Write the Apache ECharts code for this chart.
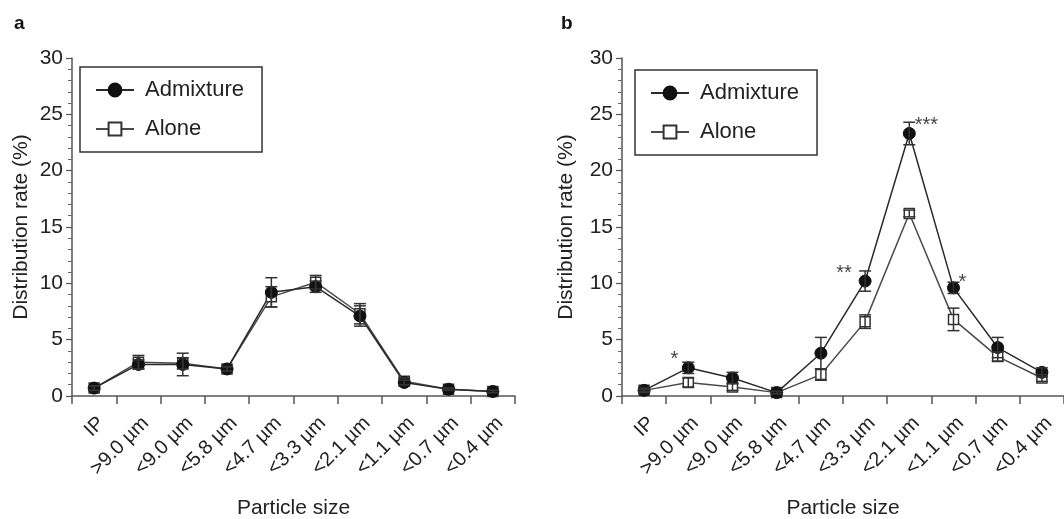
<!DOCTYPE html>
<html>
<head>
<meta charset="utf-8">
<script src="https://cdn.jsdelivr.net/npm/echarts@6/dist/echarts.min.js"></script>
<style>
  html, body { margin: 0; padding: 0; background: #fff; }
  #main { width: 1064px; height: 519px; }
</style>
</head>
<body>
<div id="main"></div>
<script>
// particle size stages
var categories = ['IP', '>9.0 µm', '<9.0 µm', '<5.8 µm', '<4.7 µm', '<3.3 µm', '<2.1 µm', '<1.1 µm', '<0.7 µm', '<0.4 µm'];
var yTicks = [0, 5, 10, 15, 20, 25, 30];

// panel a
var aAdmix    = [0.7, 2.8, 2.8, 2.4, 9.2, 9.7, 7.1, 1.2, 0.6, 0.4];
var aAdmixErr = [0.2, 0.4, 1.0, 0.2, 1.3, 0.5, 0.9, 0.2, 0.1, 0.1];
var aAlone    = [0.7, 3.0, 2.9, 2.4, 8.8, 10.1, 7.3, 1.3, 0.6, 0.4];
var aAloneErr = [0.2, 0.6, 0.5, 0.2, 0.9, 0.6, 0.9, 0.3, 0.1, 0.1];

// panel b
var bAdmix    = [0.5, 2.5, 1.6, 0.3, 3.8, 10.2, 23.3, 9.6, 4.3, 2.1];
var bAdmixErr = [0.2, 0.5, 0.5, 0.1, 1.4, 0.9, 1.0, 0.5, 0.9, 0.4];
var bAlone    = [0.5, 1.2, 0.8, 0.3, 1.9, 6.6, 16.2, 6.8, 3.5, 1.6];
var bAloneErr = [0.1, 0.4, 0.3, 0.1, 0.5, 0.6, 0.3, 1.0, 0.4, 0.3];

// significance marks in panel b
var starIdx  = [1, 5, 6, 7];
var starVal  = [2.5, 10.2, 23.3, 9.6];
var starText = ['*', '**', '***', '*'];
var starOffset = [[-14, -8], [-21, -8], [17, -8], [9, -5]];

var FONT = 'Liberation Sans, Arial, sans-serif';
var INK = '#222';

var chart = echarts.init(document.getElementById('main'));

function xAxisFor(g) {
  return {
    type: 'category', gridIndex: g, data: categories, boundaryGap: true,
    name: 'Particle size', nameLocation: 'middle', nameGap: 102,
    nameTextStyle: { fontSize: 21, color: INK, fontFamily: FONT },
    axisLine: { lineStyle: { color: '#555', width: 1.5 } },
    axisTick: { show: true, length: 8, alignWithLabel: false, lineStyle: { color: '#555', width: 1.5 } },
    axisLabel: { rotate: 45, fontSize: 20, color: INK, fontFamily: FONT, margin: 17, interval: 0, verticalAlign: 'top' },
    splitLine: { show: false }
  };
}

function yAxisFor(g, gap) {
  return {
    type: 'value', gridIndex: g, min: 0, max: 30, interval: 5,
    name: 'Distribution rate (%)', nameLocation: 'middle', nameGap: gap,
    nameTextStyle: { fontSize: 21, color: INK, fontFamily: FONT },
    axisLine: { show: true, lineStyle: { color: '#555', width: 1.5 } },
    axisTick: { show: true, length: 6, lineStyle: { color: '#555', width: 1.2 } },
    minorTick: { show: true, splitNumber: 5, length: 4, lineStyle: { color: '#666', width: 1 } },
    axisLabel: {
      fontSize: 21, color: INK, fontFamily: FONT, margin: 9,
      formatter: function (v) { return yTicks.indexOf(v) >= 0 ? String(v) : ''; }
    },
    splitLine: { show: false }
  };
}

function lineSeries(name, g, vals, filled) {
  return {
    name: name, type: 'line', xAxisIndex: g, yAxisIndex: g, data: vals,
    symbol: filled ? 'circle' : 'rect',
    symbolSize: filled ? 12 : 10,
    lineStyle: { color: filled ? '#2a2a2a' : '#4a4a4a', width: 1.5 },
    itemStyle: filled
      ? { color: '#111', borderColor: '#111', borderWidth: 1 }
      : { color: '#fff', borderColor: '#333', borderWidth: 1.5 },
    z: 2
  };
}

function errSeries(g, vals, errs) {
  var data = vals.map(function (v, i) { return [i, v - errs[i], v + errs[i]]; });
  return {
    type: 'custom', name: 'err', xAxisIndex: g, yAxisIndex: g, data: data,
    encode: { x: 0, y: [1, 2] }, z: 3, silent: true,
    renderItem: function (params, api) {
      var lo = api.coord([api.value(0), api.value(1)]);
      var hi = api.coord([api.value(0), api.value(2)]);
      var w = 6;
      var st = { stroke: '#333', lineWidth: 1.5 };
      return {
        type: 'group', children: [
          { type: 'line', shape: { x1: lo[0], y1: lo[1], x2: hi[0], y2: hi[1] }, style: st },
          { type: 'line', shape: { x1: lo[0] - w, y1: lo[1], x2: lo[0] + w, y2: lo[1] }, style: st },
          { type: 'line', shape: { x1: hi[0] - w, y1: hi[1], x2: hi[0] + w, y2: hi[1] }, style: st }
        ]
      };
    }
  };
}

function legendAt(left, top) {
  return {
    data: ['Admixture', 'Alone'], orient: 'vertical', left: left, top: top,
    borderColor: '#333', borderWidth: 1.5, borderRadius: 0,
    padding: [12, 18, 12, 15], itemGap: 17, itemWidth: 38, itemHeight: 16,
    textStyle: { fontSize: 22, color: INK, fontFamily: FONT, padding: [0, 0, 0, 6] },
    selectedMode: false
  };
}

var stars = starIdx.map(function (c, i) {
  return {
    value: [c, starVal[i]],
    label: { formatter: starText[i], offset: starOffset[i] }
  };
});

var option = {
  animation: false,
  backgroundColor: '#fff',
  textStyle: { fontFamily: FONT },
  title: [
    { text: 'a', left: 9, top: 9, textStyle: { fontSize: 19, fontWeight: 'bold', color: '#111', fontFamily: FONT } },
    { text: 'b', left: 556, top: 9, textStyle: { fontSize: 19, fontWeight: 'bold', color: '#111', fontFamily: FONT } }
  ],
  legend: [legendAt(80, 67), legendAt(635, 70)],
  grid: [
    { left: 72, top: 58, width: 443, height: 338, containLabel: false, outerBoundsMode: 'none' },
    { left: 622, top: 58, width: 442, height: 338, containLabel: false, outerBoundsMode: 'none' }
  ],
  xAxis: [xAxisFor(0), xAxisFor(1)],
  yAxis: [yAxisFor(0, 40), yAxisFor(1, 45)],
  series: [
    lineSeries('Alone', 0, aAlone, false),
    lineSeries('Admixture', 0, aAdmix, true),
    errSeries(0, aAlone, aAloneErr),
    errSeries(0, aAdmix, aAdmixErr),
    lineSeries('Alone', 1, bAlone, false),
    lineSeries('Admixture', 1, bAdmix, true),
    errSeries(1, bAlone, bAloneErr),
    errSeries(1, bAdmix, bAdmixErr),
    {
      type: 'scatter', name: 'sig', xAxisIndex: 1, yAxisIndex: 1, data: stars,
      symbolSize: 0, silent: true, z: 4,
      label: { show: true, position: 'inside', fontSize: 20, color: '#111', fontFamily: FONT }
    }
  ]
};

chart.setOption(option);
</script>
</body>
</html>
